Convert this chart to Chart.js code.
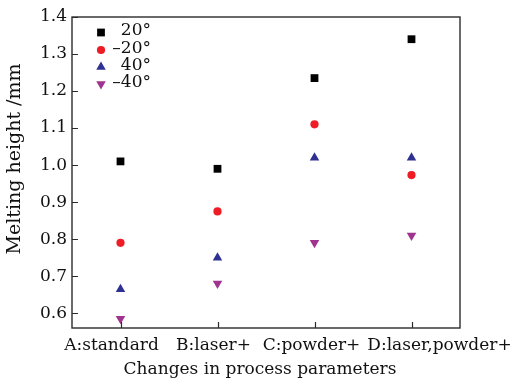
<!DOCTYPE html>
<html>
<head>
<meta charset="utf-8">
<script src="https://cdn.jsdelivr.net/npm/chart.js@4/dist/chart.umd.min.js"></script>
<style>
html,body{margin:0;padding:0;background:#fff;}
#wrap{width:521px;height:380px;position:relative;}
</style>
</head>
<body>
<div id="wrap"><canvas id="c" width="521" height="380"></canvas></div>
<script>
const categories = ['A:standard', 'B:laser+', 'C:powder+', 'D:laser,powder+'];
const seriesLabels = ['20°', '\u201320°', '40°', '\u201340°'];
const s20 = [1.01, 0.99, 1.235, 1.34];
const sMinus20 = [0.79, 0.875, 1.11, 0.973];
const s40 = [0.665, 0.75, 1.02, 1.02];
const sMinus40 = [0.585, 0.68, 0.79, 0.81];
const yTicks = [0.6, 0.7, 0.8, 0.9, 1.0, 1.1, 1.2, 1.3, 1.4];
const xTitle = 'Changes in process parameters';
const yTitle = 'Melting height /mm';

const FONT = '"DejaVu Serif", serif';
const toPts = arr => arr.map((v, i) => ({x: i, y: v}));

const styles = [
  {color: '#000000', style: 'rect', radius: 5.5, rotation: 0},
  {color: '#ee1c25', style: 'circle', radius: 4.1, rotation: 0},
  {color: '#2e3192', style: 'triangle', radius: 5.5, rotation: 0},
  {color: '#a0338f', style: 'triangle', radius: 5.5, rotation: 180}
];
const seriesData = [s20, sMinus20, s40, sMinus40];
// horizontal shift of each category label relative to its tick (label layout)
const labelShift = [-9, -4, -3, 28];

const datasets = seriesData.map((d, k) => ({
  label: seriesLabels[k],
  data: toPts(d),
  backgroundColor: styles[k].color,
  borderColor: styles[k].color,
  borderWidth: 0,
  pointStyle: styles[k].style,
  pointRadius: styles[k].radius,
  pointRotation: styles[k].rotation,
  showLine: false
}));

const framePlugin = {
  id: 'frame',
  afterDraw(chart) {
    const ctx = chart.ctx;
    const a = chart.chartArea;
    const xs = chart.scales.x, ys = chart.scales.y;
    ctx.save();
    ctx.strokeStyle = '#2b2b2b';
    ctx.lineWidth = 1.4;
    ctx.strokeRect(a.left, a.top, a.right - a.left, a.bottom - a.top);
    ctx.lineWidth = 1.2;
    ctx.beginPath();
    yTicks.forEach(v => {
      const y = Math.round(ys.getPixelForValue(v)) + 0.5;
      ctx.moveTo(a.left, y); ctx.lineTo(a.left + 6, y);
    });
    categories.forEach((c, i) => {
      const x = Math.round(xs.getPixelForValue(i)) + 0.5;
      ctx.moveTo(x, a.bottom); ctx.lineTo(x, a.bottom - 6);
    });
    ctx.stroke();

    // category labels
    ctx.font = '17px ' + FONT;
    ctx.fillStyle = '#111';
    ctx.textAlign = 'center';
    ctx.textBaseline = 'middle';
    categories.forEach((c, i) => {
      ctx.fillText(c, xs.getPixelForValue(i) + labelShift[i], a.bottom + 18);
    });

    // legend
    const lx = a.left + 29, tx = a.left + 79;
    const markRows = [a.top + 15.5, a.top + 33, a.top + 50, a.top + 67];
    const textRows = [a.top + 14, a.top + 31.5, a.top + 49, a.top + 66];
    ctx.textAlign = 'right';
    datasets.forEach((ds, k) => {
      ctx.fillStyle = ds.backgroundColor;
      ctx.strokeStyle = ds.borderColor;
      Chart.helpers.drawPoint(ctx, {pointStyle: ds.pointStyle, radius: ds.pointRadius, rotation: ds.pointRotation, borderWidth: 0}, lx, markRows[k]);
      ctx.fillStyle = '#111';
      ctx.fillText(ds.label, tx, textRows[k]);
    });

    // axis titles
    ctx.textAlign = 'center';
    ctx.font = '17px ' + FONT;
    ctx.fillText(xTitle, 260, 370);
    ctx.save();
    ctx.font = '19px ' + FONT;
    ctx.translate(15, 159);
    ctx.rotate(-Math.PI / 2);
    ctx.fillText(yTitle, 0, 0);
    ctx.restore();
    ctx.restore();
  }
};

new Chart(document.getElementById('c'), {
  type: 'scatter',
  data: {datasets},
  options: {
    responsive: false,
    animation: false,
    devicePixelRatio: 1,
    layout: {padding: {top: 17, right: 61, left: 0, bottom: 0}},
    plugins: {legend: {display: false}, tooltip: {enabled: false}},
    scales: {
      x: {
        type: 'linear', min: -0.5, max: 3.5,
        afterBuildTicks: s => { s.ticks = categories.map((c, i) => ({value: i})); },
        afterFit: s => { s.height = 52; },
        grid: {display: false, drawTicks: false},
        border: {display: false},
        ticks: {display: false}
      },
      y: {
        min: 0.56, max: 1.4,
        afterBuildTicks: s => { s.ticks = yTicks.map(v => ({value: v})); },
        afterFit: s => { s.width = 72; },
        grid: {display: false, drawTicks: false},
        border: {display: false},
        ticks: {
          callback: v => v.toFixed(1),
          font: {family: FONT, size: 17},
          color: '#111',
          padding: 5
        }
      }
    }
  },
  plugins: [framePlugin]
});
</script>
</body>
</html>
